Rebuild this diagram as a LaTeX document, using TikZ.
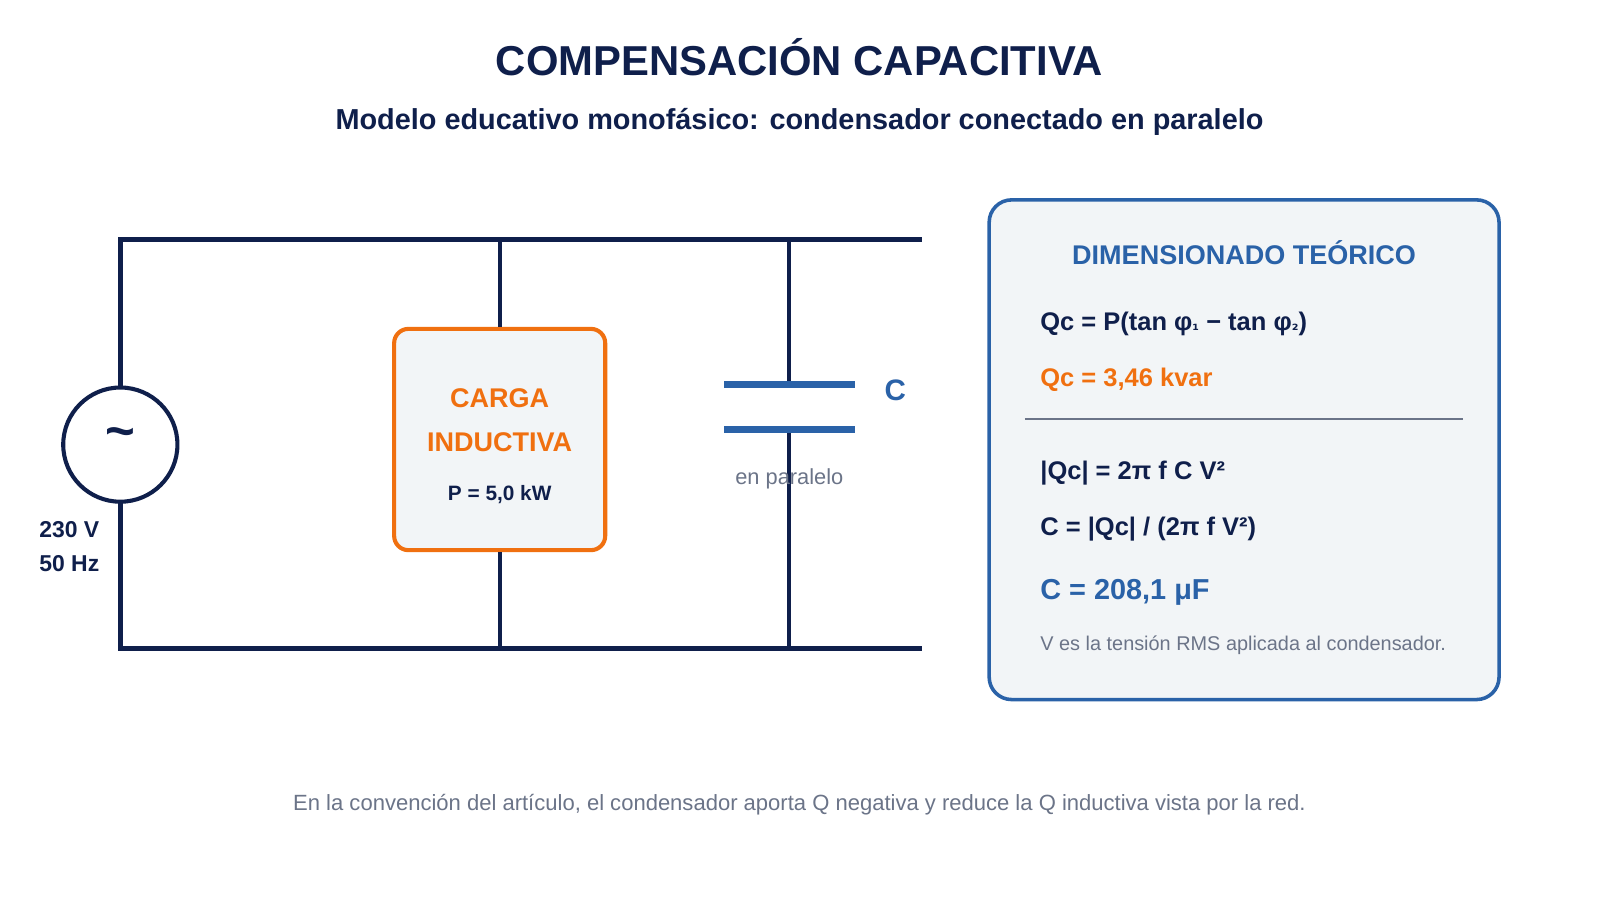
\documentclass[tikz,border=0pt]{standalone}
\usepackage{fontspec}
\setmainfont{Liberation Sans}
\newfontfamily\dvs{DejaVu Sans}
\definecolor{navy}{HTML}{0F1F4B}
\definecolor{orng}{HTML}{F07010}
\definecolor{blu}{HTML}{2A62A8}
\definecolor{gry}{HTML}{6B7488}
\definecolor{pale}{HTML}{F2F5F7}
\newcommand{\fs}[1]{\fontsize{#1}{#1}\selectfont}
\begin{document}
\begin{tikzpicture}[x=1pt,y=-1pt,
 wire/.style={navy,line width=5pt},
 txt/.style={inner sep=0pt,font=\bfseries\fs{25}}]
\useasboundingbox[fill=white] (0,0) rectangle (1569,883);
\node[txt,navy,font=\bfseries\fs{41}] (title) at (784,56) {COMPENSACIÓN CAPACITIVA};
\node[txt,navy,font=\bfseries\fs{28.3}] (sub) at (784,120) {Modelo educativo monofásico: condensador conectado en paralelo};
% circuit
\coordinate (tl) at (118,235); \coordinate (tr) at (902,235);
\coordinate (bl) at (118,636); \coordinate (br) at (902,636);
\node[circle,draw=navy,line width=4pt,minimum size=112pt,inner sep=0pt,fill=white] (src) at (118,436) {};
\node[txt,navy,font=\bfseries\fs{50}] at (118,430) {\textasciitilde};
\draw[wire,line cap=rect] (src.north) -- (tl) -- (tr);
\draw[wire,line cap=rect] (src.south) -- (bl) -- (br);
\node[draw=orng,line width=4pt,fill=pale,rounded corners=14pt,minimum width=207pt,minimum height=217pt] (load) at (490,431) {};
\node[txt,orng,font=\bfseries\fs{26.5}] (l1) at (490,390) {CARGA};
\node[txt,orng,font=\bfseries\fs{26.5}] (l2) at (490,434) {INDUCTIVA};
\node[txt,navy,font=\bfseries\fs{20.4}] (l3) at (490,485) {P = 5,0 kW};
\draw[wire,line width=4pt] (490,235) -- (load.north);
\draw[wire,line width=4pt] (load.south) -- (490,636);
\coordinate (p1) at (774,377); \coordinate (p2) at (774,421);
\draw[wire,line width=4pt] (774,235) -- (p1);
\draw[wire,line width=4pt] (p2) -- (774,636);
\draw[blu,line width=7pt] (710,377) -- (838,377);
\draw[blu,line width=7pt] (710,421) -- (838,421);
\node[txt,blu,font=\bfseries\fs{29}] (cl) at (878,383) {C};
\node[txt,gry,font=\fs{21.4}] (par) at (774,470) {en paralelo};
\node[txt,navy,font=\bfseries\fs{22.5}] (v) at (68,519) {230 V};
\node[txt,navy,font=\bfseries\fs{22.5}] (f) at (68,553) {50 Hz};
% right panel
\node[draw=blu,line width=3.5pt,fill=pale,rounded corners=22pt,minimum width=500pt,minimum height=490pt] (panel) at (1220,441) {};
\node[txt,blu,font=\bfseries\fs{26.5}] (pt) at (1220,248) {DIMENSIONADO TEÓRICO};
\node[txt,navy,anchor=west] (e1) at (1020,318) {Qc = P(tan φ{\dvs\fs{15}₁} − tan φ{\dvs\fs{15}₂})};
\node[txt,orng,anchor=west] (e2) at (1020,372) {Qc = 3,46 kvar};
\draw[gry,line width=1.5pt] (1005,411) -- (1435,411);
\node[txt,navy,anchor=west] (e3) at (1020,464) {|Qc| = 2π f C V²};
\node[txt,navy,anchor=west] (e4) at (1020,519) {C = |Qc| / (2π f V²)};
\node[txt,blu,anchor=west,font=\bfseries\fs{28.3}] (e5) at (1020,581) {C = 208,1 μF};
\node[txt,gry,anchor=west,font=\fs{19.5}] (e6) at (1020,633) {V es la tensión RMS aplicada al condensador.};
\node[txt,gry,font=\fs{21.6}] (foot) at (784,789) {En la convención del artículo, el condensador aporta Q negativa y reduce la Q inductiva vista por la red.};
\end{tikzpicture}
\end{document}
